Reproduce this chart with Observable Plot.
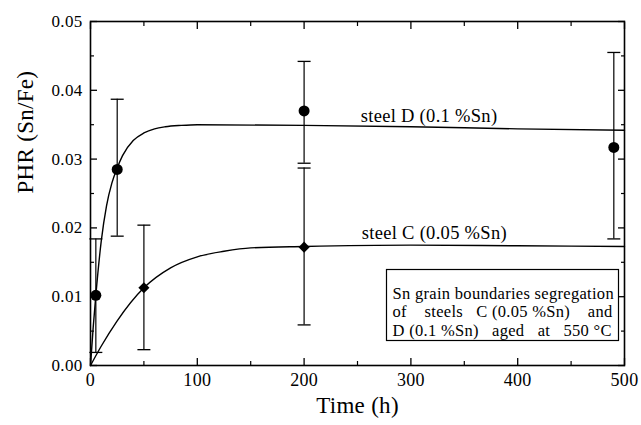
<!DOCTYPE html>
<html>
<head>
<meta charset="utf-8">
<script src="https://cdn.jsdelivr.net/npm/d3@7"></script>
<script src="https://cdn.jsdelivr.net/npm/@observablehq/plot@0.6"></script>
<style>
  html, body { margin: 0; padding: 0; background: #fff; }
  #chart { width: 641px; height: 425px; }
</style>
</head>
<body>
<div id="chart"></div>
<script>
// ---- data ----
// Steel D (0.1 %Sn) measured points (circles)
const dTime = [5, 25, 200, 490];
const dPHR  = [0.0102, 0.0285, 0.0370, 0.0317];
const dLow  = [0.0019, 0.0188, 0.0294, 0.0184];
const dHigh = [0.0184, 0.0387, 0.0442, 0.0455];

// Steel C (0.05 %Sn) measured points (diamonds)
const cTime = [50, 200];
const cPHR  = [0.0113, 0.0172];
const cLow  = [0.0023, 0.0059];
const cHigh = [0.0204, 0.0287];

// fitted curves
const dCurveTime = [0, 2.5, 5, 10, 15, 20, 25, 30, 40, 50, 60, 70, 85, 100, 200, 300, 400, 500];
const dCurvePHR  = [0, 0.0055, 0.0102, 0.0180, 0.0232, 0.0265, 0.0287, 0.0305, 0.0327, 0.0338, 0.0344, 0.0347, 0.0349, 0.0350, 0.0349, 0.0347, 0.0344, 0.0342];
const cCurveTime = [0, 10, 25, 50, 75, 100, 125, 150, 200, 300, 400, 500];
const cCurvePHR  = [0, 0.0028, 0.0065, 0.0113, 0.0142, 0.0158, 0.0166, 0.0171, 0.0173, 0.0175, 0.0174, 0.0173];

// labels and ticks
const seriesLabels = ["steel D (0.1 %Sn)", "steel C (0.05 %Sn)"];
const seriesLabelTime = [253, 254];
const seriesLabelPHR = [0.0362, 0.0193];
const xMajorTicks = [0, 100, 200, 300, 400, 500];
const xMinorTicks = [50, 150, 250, 350, 450];
const yMajorTicks = [0.00, 0.01, 0.02, 0.03, 0.04, 0.05];
const yMinorTicks = [0.005, 0.015, 0.025, 0.035, 0.045];
const boxText = "Sn grain boundaries segregation\nof    steels   C (0.05 %Sn)    and\nD (0.1 %Sn)   aged   at   550 °C";
const xTitle = "Time (h)";
const yTitle = "PHR (Sn/Fe)";

// ---- build tables ----
const dPts = dTime.map((t, i) => ({t, v: dPHR[i], lo: dLow[i], hi: dHigh[i]}));
const cPts = cTime.map((t, i) => ({t, v: cPHR[i], lo: cLow[i], hi: cHigh[i]}));
const errPts = [...dPts, ...cPts];
const dCurve = dCurveTime.map((t, i) => ({t, v: dCurvePHR[i]}));
const cCurve = cCurveTime.map((t, i) => ({t, v: cCurvePHR[i]}));
const labels = seriesLabels.map((s, i) => ({s, t: seriesLabelTime[i], v: seriesLabelPHR[i]}));

// horizontal cap symbol for error bars
const capSymbol = {
  draw(context, size) {
    const r = Math.sqrt(size / Math.PI);
    context.moveTo(-r, 0);
    context.lineTo(r, 0);
  }
};

const blank = () => "";
const font = "'Liberation Serif', 'Times New Roman', serif";

const chart = Plot.plot({
  width: 641,
  height: 425,
  marginLeft: 90,
  marginRight: 17,
  marginTop: 21,
  marginBottom: 60,
  style: {fontFamily: font, background: "#fff", color: "#000", whiteSpace: "pre", letterSpacing: "0.3px", overflow: "visible"},
  x: {domain: [0, 500]},
  y: {domain: [0, 0.05]},
  marks: [
    // axes with inward ticks
    Plot.axisX(xMajorTicks, {anchor: "bottom", tickSize: -7, tickPadding: 15, tickFormat: d => String(d), fontSize: 18, label: null, strokeWidth: 1.3}),
    Plot.axisX(xMinorTicks, {anchor: "bottom", tickSize: -4, tickFormat: blank, label: null, strokeWidth: 1.2}),
    Plot.axisX(xMajorTicks, {anchor: "top", tickSize: -7, tickFormat: blank, label: null, strokeWidth: 1.3}),
    Plot.axisX(xMinorTicks, {anchor: "top", tickSize: -4, tickFormat: blank, label: null, strokeWidth: 1.2}),
    Plot.axisY(yMajorTicks, {anchor: "left", tickSize: -7, tickPadding: 15, tickFormat: d3.format(".2f"), fontSize: 17, label: null, strokeWidth: 1.3}),
    Plot.axisY(yMinorTicks, {anchor: "left", tickSize: -4, tickFormat: blank, label: null, strokeWidth: 1.2}),
    Plot.axisY(yMajorTicks, {anchor: "right", tickSize: -7, tickFormat: blank, label: null, strokeWidth: 1.3}),
    Plot.axisY(yMinorTicks, {anchor: "right", tickSize: -4, tickFormat: blank, label: null, strokeWidth: 1.2}),
    Plot.frame({stroke: "#000", strokeWidth: 1.6}),

    // fitted curves
    Plot.line(dCurve, {x: "t", y: "v", curve: "monotone-x", stroke: "#000", strokeWidth: 1.4}),
    Plot.line(cCurve, {x: "t", y: "v", curve: "monotone-x", stroke: "#000", strokeWidth: 1.4}),

    // annotation box
    Plot.frame({insetLeft: 296, insetRight: 6, insetTop: 248, insetBottom: 25, stroke: "#000", strokeWidth: 1.2, fill: "#fff"}),
    Plot.text([boxText], {frameAnchor: "top-left", dx: 302, dy: 290, lineAnchor: "middle", textAnchor: "start", fontSize: 16.5, lineHeight: 1.12, fill: "#000"}),

    // error bars
    Plot.ruleX(errPts, {x: "t", y1: "lo", y2: "hi", stroke: "#000", strokeWidth: 1.2}),
    Plot.dot(errPts, {x: "t", y: "hi", symbol: capSymbol, r: 6.5, stroke: "#000", strokeWidth: 1.3, fill: "none"}),
    Plot.dot(errPts, {x: "t", y: "lo", symbol: capSymbol, r: 6.5, stroke: "#000", strokeWidth: 1.3, fill: "none"}),

    // data points
    Plot.dot(dPts, {x: "t", y: "v", r: 5.5, fill: "#000", stroke: "none"}),
    Plot.dot(cPts, {x: "t", y: "v", symbol: "diamond2", r: 5, fill: "#000", stroke: "none"}),

    // series labels
    Plot.text(labels, {x: "t", y: "v", text: "s", textAnchor: "start", fontSize: 18.5, fill: "#000"}),

    // axis titles
    Plot.text([xTitle], {frameAnchor: "bottom", dy: 47, fontSize: 23, fill: "#000"}),
    Plot.text([yTitle], {frameAnchor: "left", dx: -65, rotate: -90, fontSize: 23, fill: "#000"})
  ]
});

document.getElementById("chart").appendChild(chart);
</script>
</body>
</html>
